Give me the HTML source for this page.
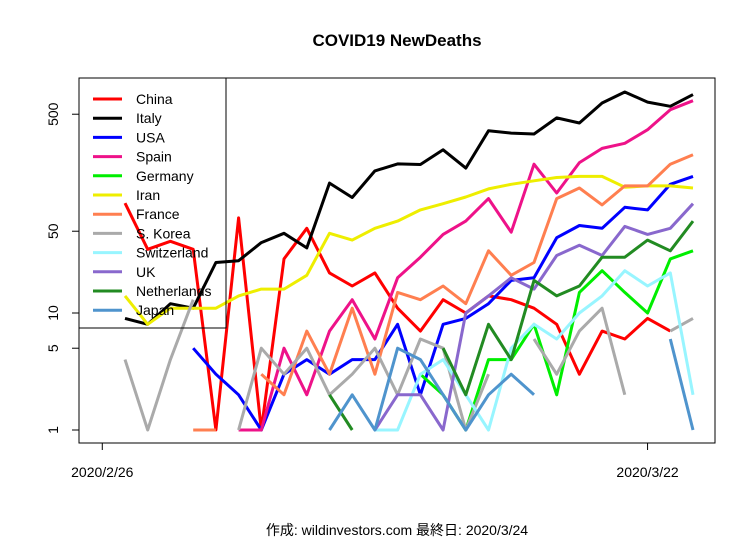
<!DOCTYPE html>
<html><head><meta charset="utf-8"><style>
body{margin:0;background:#fff;font-family:"Liberation Sans","Noto Sans CJK JP",sans-serif}
svg text{font-family:"Liberation Sans","Noto Sans CJK JP",sans-serif}
</style></head><body>
<svg id="chart" width="756" height="542" xmlns="http://www.w3.org/2000/svg">
<rect width="756" height="542" fill="#fff"/>
<text x="397" y="46" text-anchor="middle" font-size="17" font-weight="bold">COVID19 NewDeaths</text>
<defs><clipPath id="pc"><rect x="79" y="78" width="636" height="365"/></clipPath></defs>
<g id="series" clip-path="url(#pc)"></g>
<rect x="79" y="78" width="636" height="365" fill="none" stroke="#000"/>
<g id="axes"></g>
<g id="legend"></g>
<text x="397" y="535" text-anchor="middle" font-size="14">作成: wildinvestors.com 最終日: 2020/3/24</text>
</svg>
<script>
const countries=["China","Italy","USA","Spain","Germany","Iran","France","S. Korea","Switzerland","UK","Netherlands","Japan"];
const colors=["#ff0000","#000000","#0000ff","#ee1289","#00ee00","#eeee00","#ff7f50","#aaaaaa","#98f5ff","#8968cd","#228b22","#4f94cd"];
const china=[87,35,41,35,1,65,1,29,53,22,17,22,11,7,13,10,14,13,11,8,3,7,6,9,7,null];
const italy=[9,8,12,11,27,28,40,48,36,129,97,164,188,186,248,173,361,345,339,465,421,623,774,635,584,735];
const usa=[null,null,null,5,3,2,1,3,4,3,4,4,8,2,8,9,12,19,20,44,56,53,80,76,126,147];
const spain=[null,null,null,null,null,1,1,5,2,7,13,6,20,30,47,61,95,49,187,106,193,255,282,369,547,652];
const germany=[null,null,null,null,null,null,null,null,null,null,null,null,null,3,2,1,4,4,8,2,15,23,15,10,29,34];
const iran=[14,8,11,11,11,14,16,16,21,48,42,53,61,76,86,98,115,126,135,144,147,147,119,122,122,117];
const france=[null,null,null,1,1,null,3,2,7,3,11,3,15,13,17,12,34,21,27,95,117,84,122,122,187,225];
const korea=[4,1,4,13,null,1,5,3,5,2,3,5,2,6,5,1,3,null,6,3,7,11,2,null,7,9];
const swiss=[null,null,null,null,null,null,null,null,null,null,null,1,1,3,4,2,1,5,8,6,10,14,23,17,22,2];
const uk=[null,null,null,null,null,null,null,null,null,null,null,1,2,2,1,10,14,20,16,31,38,31,55,47,53,86];
const neth=[null,null,null,null,null,null,null,null,null,2,1,null,null,null,5,2,8,4,19,14,17,30,30,42,34,61];
const japan=[null,null,null,null,null,null,null,null,null,1,2,1,5,4,2,1,2,3,2,null,null,null,null,null,6,1];
const allSeries=[china,italy,usa,spain,germany,iran,france,korea,swiss,uk,neth,japan];
const yTicks=[1,5,10,50,500];
const xTickIdx=[-1,23];
const xTickLabels=["2020/2/26","2020/3/22"];
const NS="http://www.w3.org/2000/svg";
const xs=i=>125+22.72*i;
const ys=v=>430-117*Math.log10(v);
const sg=document.getElementById('series');
allSeries.forEach((s,k)=>{
  let d="",pen=false;
  s.forEach((v,i)=>{
    if(v==null||v<=0){pen=false;return;}
    d+=(pen?"L":"M")+xs(i).toFixed(1)+","+ys(v).toFixed(1);pen=true;
  });
  const p=document.createElementNS(NS,'path');
  p.setAttribute('d',d);p.setAttribute('fill','none');p.setAttribute('stroke',colors[k]);
  p.setAttribute('stroke-width','3');p.setAttribute('stroke-linejoin','round');
  
  
  sg.appendChild(p);
});
const ax=document.getElementById('axes');
function mk(tag,attrs,txt){const e=document.createElementNS(NS,tag);for(const a in attrs)e.setAttribute(a,attrs[a]);if(txt!=null)e.textContent=txt;ax.appendChild(e);return e;}
const yl=mk('line',{x1:79,x2:79,y1:ys(1),y2:ys(500),stroke:'#000'});


yTicks.forEach(v=>{
  const t=mk('line',{x1:72,x2:79,y1:ys(v),y2:ys(v),stroke:'#000'});
  
  
  const y=ys(v);
  const l=mk('text',{x:58,y:y,'font-size':14,'text-anchor':'middle',transform:'rotate(-90 58 '+y+')'},String(v));
  
  
});
const xl=mk('line',{x1:xs(xTickIdx[0]),x2:xs(xTickIdx[1]),y1:443,y2:443,stroke:'#000'});


xTickIdx.forEach((i,k)=>{
  const t=mk('line',{x1:xs(i),x2:xs(i),y1:443,y2:450,stroke:'#000'});
  
  
  const l=mk('text',{x:xs(i),y:477,'font-size':14,'text-anchor':'middle'},xTickLabels[k]);
  
  
});
const lg=document.getElementById('legend');


const box=document.createElementNS(NS,'rect');
box.setAttribute('x',79);box.setAttribute('y',78);box.setAttribute('width',147);box.setAttribute('height',250);
box.setAttribute('fill','none');box.setAttribute('stroke','#000');


lg.appendChild(box);
countries.forEach((c,k)=>{
  const y=99+19.2*k;
  const g=document.createElementNS(NS,'g');
  
  
  const l=document.createElementNS(NS,'line');
  l.setAttribute('x1',93);l.setAttribute('x2',122);l.setAttribute('y1',y);l.setAttribute('y2',y);
  l.setAttribute('stroke',colors[k]);l.setAttribute('stroke-width',3);
  const t=document.createElementNS(NS,'text');
  t.setAttribute('x',136);t.setAttribute('y',y+5);t.setAttribute('font-size',14);t.textContent=c;
  g.appendChild(l);g.appendChild(t);lg.appendChild(g);
});
</script>
</body></html>
